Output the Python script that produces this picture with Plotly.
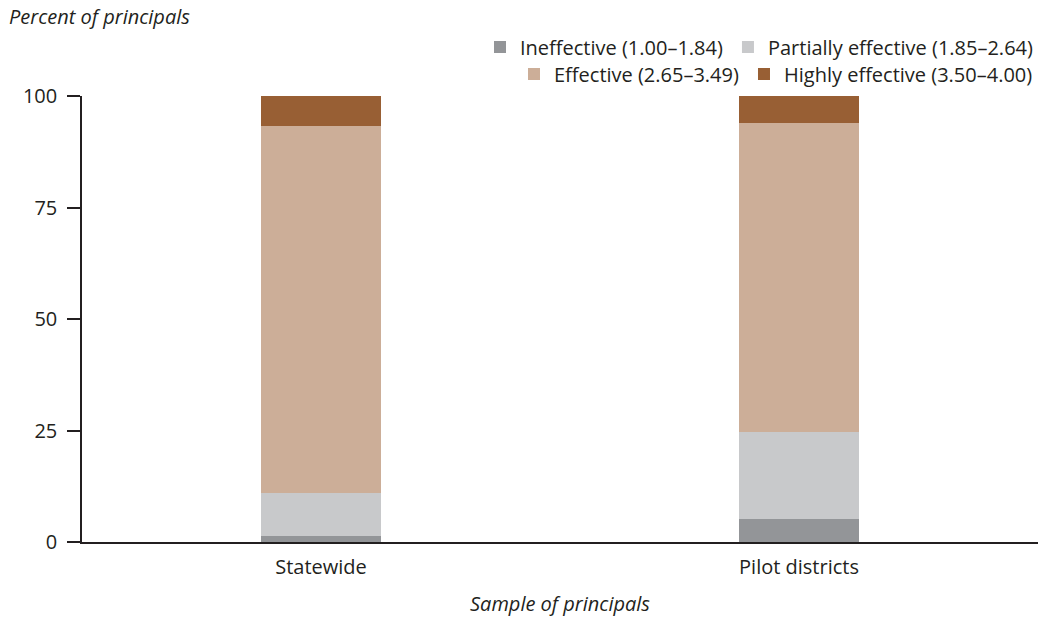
import plotly.graph_objects as go

# Rating distribution of principals by sample (percent)
samples = ["Statewide", "Pilot districts"]
categories = [
    "Ineffective (1.00–1.84)",
    "Partially effective (1.85–2.64)",
    "Effective (2.65–3.49)",
    "Highly effective (3.50–4.00)",
]
ineffective = [1.4, 5.2]
partially_effective = [9.5, 19.5]
effective = [82.4, 69.2]
highly_effective = [6.7, 6.1]

colors = ["#939598", "#c8c9cb", "#ccae98", "#985f34"]
series = [ineffective, partially_effective, effective, highly_effective]
legend_ids = ["legend", "legend", "legend2", "legend2"]

FONT = "Open Sans"
TEXT = "#231f20"
SIZE = 20

fig = go.Figure()
for name, vals, col, lg in zip(categories, series, colors, legend_ids):
    fig.add_trace(go.Bar(
        x=samples, y=vals, name=name, marker_color=col,
        marker_line_width=0, width=0.25, legend=lg,
    ))

legend_style = dict(
    orientation="h", xref="paper", yref="container",
    xanchor="right", x=1.0, yanchor="middle",
    font=dict(family=FONT, size=SIZE, color=TEXT),
    bgcolor="rgba(0,0,0,0)", traceorder="normal",
    itemwidth=30, tracegroupgap=0, itemclick=False,
)

fig.update_layout(
    width=1039, height=618,
    margin=dict(l=82, r=1, t=96, b=76, autoexpand=False),
    paper_bgcolor="white", plot_bgcolor="white",
    barmode="stack", bargap=0,
    font=dict(family=FONT, size=SIZE, color=TEXT),
    showlegend=True,
    legend=dict(**legend_style, y=1 - 47 / 618),
    legend2=dict(**legend_style, y=1 - 74 / 618),
    xaxis=dict(
        showline=True, linecolor="#231f20", linewidth=1.5,
        ticks="", showgrid=False, range=[-0.5, 1.5],
        ticklabelstandoff=6,
        tickfont=dict(family=FONT, size=SIZE, color=TEXT),
        title=dict(text="<i>Sample of principals</i>", standoff=18,
                   font=dict(family=FONT, size=20, color=TEXT)),
    ),
    yaxis=dict(
        range=[0, 100], tickvals=[0, 25, 50, 75, 100],
        showline=True, linecolor="#231f20", linewidth=1.5,
        ticks="outside", ticklen=13, tickwidth=1.5, tickcolor="#231f20",
        ticklabelstandoff=6,
        showgrid=False, zeroline=False,
        tickfont=dict(family=FONT, size=SIZE, color=TEXT),
    ),
    annotations=[dict(
        text="<i>Percent of principals</i>", xref="paper", yref="paper",
        x=-0.078, y=1.0, yshift=80, xanchor="left", yanchor="middle",
        showarrow=False, font=dict(family=FONT, size=20, color=TEXT),
    )],
)

fig.write_html("out.html")
